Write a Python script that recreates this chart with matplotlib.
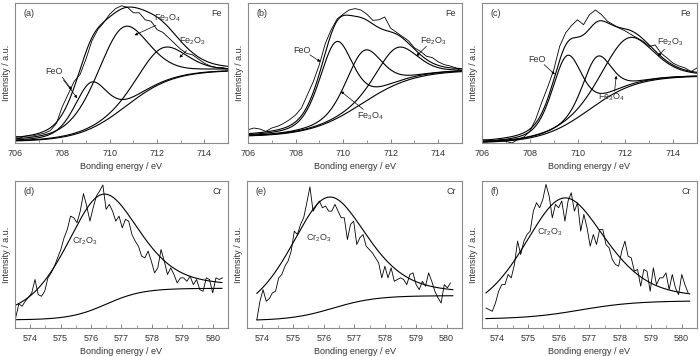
import numpy as np
import matplotlib.pyplot as plt

plt.rcParams['font.family'] = ['Liberation Sans', 'DejaVu Sans']
plt.rcParams['mathtext.fontset'] = 'custom'
plt.rcParams['mathtext.rm'] = 'Liberation Sans'
plt.rcParams['mathtext.it'] = 'Liberation Sans:italic'
plt.rcParams['font.size'] = 6.5

# ---- Fe 2p: measured spectra (706 -> 715 eV, 0.25 eV step), normalised intensity
fe_start, fe_step = 706.0, 0.25
fe_meas_a = [0.05, 0.04, 0.05, 0.05, 0.06, 0.07, 0.09, 0.14, 0.26, 0.35, 0.44, 0.49,
             0.60, 0.73, 0.81, 0.86, 0.92, 0.96, 0.98, 0.97, 0.93, 0.93, 0.88, 0.87,
             0.81, 0.79, 0.75, 0.71, 0.67, 0.64, 0.63, 0.60, 0.57, 0.55, 0.54, 0.54, 0.53]
fe_meas_b = [0.095, 0.107, 0.10, 0.083, 0.107, 0.12, 0.14, 0.167, 0.20, 0.25, 0.345, 0.44,
             0.56, 0.71, 0.81, 0.886, 0.92, 0.95, 0.96, 0.95, 0.92, 0.876, 0.88, 0.90,
             0.82, 0.79, 0.76, 0.73, 0.68, 0.655, 0.62, 0.61, 0.58, 0.56, 0.55, 0.536, 0.51]
fe_meas_c = [0.024, 0.02, 0.012, 0.024, 0.012, 0.0, 0.024, 0.043, 0.083, 0.17, 0.29, 0.40,
             0.52, 0.69, 0.786, 0.84, 0.88, 0.845, 0.917, 0.95, 0.917, 0.87, 0.845, 0.82,
             0.80, 0.774, 0.75, 0.726, 0.69, 0.70, 0.64, 0.607, 0.57, 0.55, 0.536, 0.51, 0.536]

# fitted components: FeO, Fe3O4, Fe2O3 (centre eV, height, sigma eV)
fe_center_a = [709.2, 710.5, 712.2]
fe_height_a = [0.33, 0.58, 0.25]
fe_sigma_a = [0.7, 1.1, 1.0]
fe_center_b = [709.7, 710.85, 712.25]
fe_height_b = [0.55, 0.37, 0.26]
fe_sigma_b = [0.7, 0.75, 0.85]
fe_center_c = [709.55, 710.8, 712.1]
fe_height_c = [0.49, 0.34, 0.35]
fe_sigma_c = [0.62, 0.6, 1.05]
# Shirley-like background: low, high, step centre, step width
fe_bg_a = [0.01, 0.52, 710.7, 1.0]
fe_bg_b = [0.045, 0.52, 710.8, 1.1]
fe_bg_c = [0.0, 0.48, 710.5, 1.0]

# ---- Cr 2p3/2: measured spectra, normalised intensity
cr_start_d, cr_step_d = 573.52, 0.1062
cr_meas_d = [0.068, 0.164, 0.148, 0.182, 0.209, 0.239, 0.33, 0.227, 0.216, 0.25, 0.341,
             0.375, 0.42, 0.477, 0.534, 0.614, 0.67, 0.761, 0.75, 0.716, 0.795, 0.914,
             0.83, 0.727, 0.818, 0.898, 0.932, 0.973, 0.807, 0.841, 0.795, 0.727, 0.761,
             0.682, 0.739, 0.727, 0.636, 0.591, 0.557, 0.489, 0.477, 0.523, 0.455, 0.375,
             0.409, 0.534, 0.455, 0.364, 0.409, 0.364, 0.307, 0.341, 0.341, 0.318, 0.352,
             0.295, 0.33, 0.261, 0.25, 0.341, 0.33, 0.239, 0.341, 0.33, 0.341]
cr_start_e, cr_step_e = 573.82, 0.1017
cr_meas_e = [0.057, 0.182, 0.261, 0.182, 0.2, 0.239, 0.25, 0.341, 0.364, 0.42, 0.455,
             0.523, 0.659, 0.636, 0.705, 0.75, 0.852, 0.96, 0.795, 0.83, 0.864, 0.818,
             0.83, 0.795, 0.795, 0.841, 0.795, 0.75, 0.75, 0.602, 0.705, 0.727, 0.568,
             0.614, 0.636, 0.557, 0.534, 0.511, 0.477, 0.443, 0.341, 0.42, 0.341, 0.409,
             0.318, 0.33, 0.341, 0.33, 0.295, 0.364, 0.375, 0.295, 0.261, 0.318, 0.284,
             0.375, 0.318, 0.25, 0.205, 0.17, 0.295, 0.273, 0.307]
cr_start_f, cr_step_f = 573.63, 0.1028
cr_meas_f = [0.136, 0.125, 0.114, 0.17, 0.25, 0.295, 0.295, 0.364, 0.341, 0.432, 0.591,
             0.5, 0.591, 0.636, 0.659, 0.795, 0.852, 0.818, 0.875, 0.977, 0.898, 0.75,
             0.841, 0.818, 0.864, 0.727, 0.864, 0.92, 0.795, 0.852, 0.659, 0.773, 0.682,
             0.557, 0.636, 0.568, 0.67, 0.67, 0.568, 0.545, 0.466, 0.432, 0.42, 0.523,
             0.591, 0.489, 0.477, 0.386, 0.398, 0.284, 0.398, 0.386, 0.25, 0.409, 0.295,
             0.341, 0.341, 0.375, 0.261, 0.364, 0.273, 0.227, 0.364, 0.295, 0.239]

# Cr2O3 component (centre, height, sigma) and background
cr_peak_d = [576.3, 0.76, 1.2]
cr_peak_e = [576.1, 0.765, 1.25]
cr_peak_f = [576.15, 0.78, 1.35]
cr_bg_d = [0.055, 0.27, 576.5, 0.6]
cr_bg_e = [0.05, 0.22, 576.3, 0.7]
cr_bg_f = [0.06, 0.185, 576.7, 0.9]

TXT = '#333333'


def voigt(x, c, h, s, eta=0.35):
    # pseudo-Voigt line shape
    g = np.exp(-(x - c) ** 2 / (2 * s ** 2))
    l = 1 / (1 + ((x - c) / (1.1774 * s)) ** 2)
    return h * ((1 - eta) * g + eta * l)


def background(x, lo, hi, c, w):
    return lo + (hi - lo) / (1 + np.exp(-(x - c) / w))


def style_axes(ax, xlim, major, minor, tag, element):
    ax.set_xlim(*xlim)
    ax.set_ylim(0, 1)
    ax.set_yticks([])
    ax.set_xticks(major)
    ax.set_xticks(minor, minor=True)
    ax.tick_params(axis='x', which='both', direction='in', color='#777777',
                   labelsize=6.5, labelcolor=TXT, pad=4)
    ax.tick_params(axis='x', which='major', length=3, width=0.6)
    ax.tick_params(axis='x', which='minor', length=2, width=0.5)
    for sp in ax.spines.values():
        sp.set_color('#8a8a8a')
        sp.set_linewidth(0.8)
    ax.set_xlabel('Bonding energy / eV', fontsize=6.5, color=TXT, labelpad=3)
    ax.set_ylabel('Intensity / a.u.', fontsize=6.5, color=TXT, labelpad=3)
    ax.text(0.04, 0.96, tag, transform=ax.transAxes, ha='left', va='top', color=TXT)
    ax.text(0.97, 0.96, element, transform=ax.transAxes, ha='right', va='top', color=TXT)


def draw_fe(ax, meas, centers, heights, sigmas, bg, tag, notes):
    x = np.linspace(706, 715, 500)
    b = background(x, *bg)
    total = b.copy()
    ax.plot(x, b, color='black', lw=0.8)
    for c, h, s in zip(centers, heights, sigmas):
        p = voigt(x, c, h, s)
        ax.plot(x, b + p, color='black', lw=0.8)
        total = total + p
    ax.plot(x, total, color='black', lw=0.8)
    xm = fe_start + fe_step * np.arange(len(meas))
    ax.plot(xm, meas, color='black', lw=0.6)
    style_axes(ax, (706, 715), [706, 708, 710, 712, 714], np.arange(707, 715, 2), tag, 'Fe')
    for label, txy, arrows in notes:
        ax.text(txy[0], txy[1], label, ha='center', va='center', color=TXT)
        for a0, a1 in arrows:
            ax.annotate('', xy=a1, xytext=a0,
                        arrowprops=dict(arrowstyle='-|>', lw=0.5, color='black',
                                        mutation_scale=4, shrinkA=0, shrinkB=0))


def draw_cr(ax, start, step, meas, peak, bg, xfit, xlim, tag, label_xy):
    x = np.linspace(xfit[0], xfit[1], 400)
    b = background(x, *bg)
    ax.plot(x, b, color='black', lw=0.8)
    ax.plot(x, b + voigt(x, *peak, eta=0.45), color='black', lw=0.8)
    xm = start + step * np.arange(len(meas))
    ax.plot(xm, meas, color='black', lw=0.6)
    style_axes(ax, xlim, np.arange(574, 581), np.arange(573.5, 581, 1.0), tag, 'Cr')
    ax.text(label_xy[0], label_xy[1], r'Cr$_2$O$_3$', ha='center', va='center', color=TXT)


fig = plt.figure(figsize=(7, 3.56), dpi=100)
W, H = 700.0, 356.0


def add_ax(left, right, top, bottom):
    return fig.add_axes([left / W, 1 - bottom / H, (right - left) / W, (bottom - top) / H])


ax_a = add_ax(15, 228, 3, 143)
ax_b = add_ax(248, 462, 3, 143)
ax_c = add_ax(482, 697, 3, 143)
ax_d = add_ax(15, 228, 181, 328)
ax_e = add_ax(247, 462, 181, 328)
ax_f = add_ax(482, 697, 181, 328)

feo, fe3o4, fe2o3 = 'FeO', r'Fe$_3$O$_4$', r'Fe$_2$O$_3$'

draw_fe(ax_a, fe_meas_a, fe_center_a, fe_height_a, fe_sigma_a, fe_bg_a, '(a)',
        [(feo, (707.65, 0.51), [((708.0, 0.47), (708.4, 0.38)), ((708.05, 0.45), (708.63, 0.32))]),
         (fe3o4, (712.45, 0.89), [((711.95, 0.84), (711.05, 0.77))]),
         (fe2o3, (713.5, 0.73), [((713.25, 0.66), (712.95, 0.61))])])
draw_fe(ax_b, fe_meas_b, fe_center_b, fe_height_b, fe_sigma_b, fe_bg_b, '(b)',
        [(feo, (708.25, 0.66), [((708.6, 0.63), (709.05, 0.58))]),
         (fe2o3, (713.8, 0.73), [((713.5, 0.69), (713.08, 0.62))]),
         (fe3o4, (711.15, 0.19), [((710.85, 0.24), (709.9, 0.37))])])
draw_fe(ax_c, fe_meas_c, fe_center_c, fe_height_c, fe_sigma_c, fe_bg_c, '(c)',
        [(feo, (708.3, 0.6), [((708.6, 0.56), (709.05, 0.49))]),
         (fe2o3, (713.9, 0.72), [((713.64, 0.67), (713.36, 0.62))]),
         (fe3o4, (711.4, 0.33), [((711.55, 0.37), (711.62, 0.48))])])

draw_cr(ax_d, cr_start_d, cr_step_d, cr_meas_d, cr_peak_d, cr_bg_d, (573.52, 580.3),
        (573.5, 580.3), '(d)', (575.8, 0.59))
draw_cr(ax_e, cr_start_e, cr_step_e, cr_meas_e, cr_peak_e, cr_bg_e, (573.82, 580.2),
        (573.63, 580.2), '(e)', (575.85, 0.61))
draw_cr(ax_f, cr_start_f, cr_step_f, cr_meas_f, cr_peak_f, cr_bg_f, (573.63, 580.26),
        (573.63, 580.26), '(f)', (575.7, 0.65))

fig.savefig('out.png', dpi=100)
